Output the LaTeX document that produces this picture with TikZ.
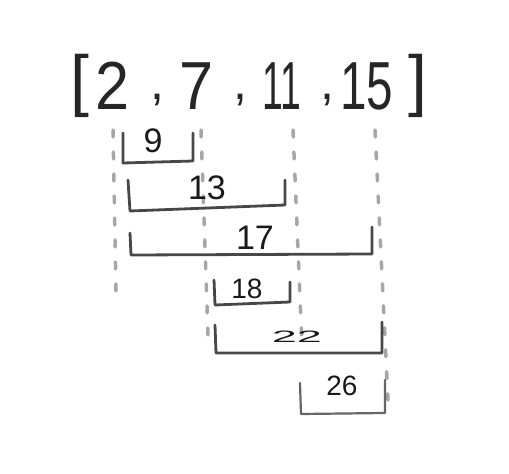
\documentclass[tikz,border=0pt]{standalone}
\usepackage{fontspec}
\setmainfont{Liberation Sans}
\begin{document}
\begin{tikzpicture}[x=1pt,y=-1pt,
  guide/.style={draw=black!35,line width=3.5pt,line cap=round,dash pattern=on 7pt off 15pt},
  brk/.style={draw=black!72,line width=2.8pt,line join=round,line cap=round},
  big/.style={text=black!85,inner sep=0pt,font=\fontsize{68}{68}\selectfont},
  lbl/.style={text=black!90,inner sep=0pt,font=\fontsize{34}{34}\selectfont}]
\useasboundingbox (0,0) rectangle (509,474);
% guides
\coordinate (ga1) at (113,130); \coordinate (ga2) at (116,292);
\coordinate (gb1) at (201,130); \coordinate (gb2) at (208,335);
\coordinate (gc1) at (293,130); \coordinate (gc2) at (302,345);
\coordinate (gd1) at (375,130); \coordinate (gd2) at (388,400);
\draw[guide] (ga1) -- (ga2);
\draw[guide] (gb1) -- (gb2);
\draw[guide] (gc1) -- (gc2);
\draw[guide] (gd1) -- (gd2);
% array
\node[big] (lb) at (80,86) {[};
\node[big,xscale=0.9] (n2) at (113,86) {2};
\node[big,font=\fontsize{50}{50}\selectfont] (c1) at (157,100) {,};
\node[big,xscale=0.9] (n7) at (197,86) {7};
\node[big,font=\fontsize{50}{50}\selectfont] (c2) at (240,100) {,};
\node[big,xscale=0.55] (n11) at (282,86) {11};
\node[big,font=\fontsize{50}{50}\selectfont] (c3) at (327,100) {,};
\node[big,xscale=0.7] (n15) at (367,86) {15};
\node[big] (rb) at (418,86) {]};
% brackets
\coordinate (a1) at (123,133); \coordinate (a2) at (123,163); \coordinate (a3) at (193,161); \coordinate (a4) at (193,133);
\draw[brk] (a1) -- (a2) -- (a3) -- (a4);
\node[lbl] (s9) at (153,141) {9};
\coordinate (b1) at (128,180); \coordinate (b2) at (130,211); \coordinate (b3) at (285,205); \coordinate (b4) at (285,180);
\draw[brk] (b1) -- (b2) -- (b3) -- (b4);
\node[lbl] (s13) at (207,188) {13};
\coordinate (c1b) at (130,233); \coordinate (c2b) at (131,255); \coordinate (c3b) at (372,254); \coordinate (c4b) at (372,227);
\draw[brk] (c1b) -- (c2b) -- (c3b) -- (c4b);
\node[lbl] (s17) at (255,238) {17};
\coordinate (d1) at (214,280); \coordinate (d2) at (215,305); \coordinate (d3) at (290,302); \coordinate (d4) at (290,282);
\draw[brk] (d1) -- (d2) -- (d3) -- (d4);
\node[lbl,font=\fontsize{28}{28}\selectfont] (s18) at (247,289) {18};
\coordinate (e1) at (215,325); \coordinate (e2) at (216,353); \coordinate (e3) at (382,353); \coordinate (e4) at (382,322);
\draw[brk] (e1) -- (e2) -- (e3) -- (e4);
\node[lbl,font=\fontsize{30}{30}\selectfont,xscale=1.5,yscale=0.55] (s22) at (297,337) {22};
\coordinate (f1) at (300,383); \coordinate (f2) at (301,414); \coordinate (f3) at (385,413); \coordinate (f4) at (385,380);
\draw[brk,draw=black!60,line width=2.2pt] (f1) -- (f2) -- (f3) -- (f4);
\node[lbl,font=\fontsize{28}{28}\selectfont] (s26) at (342,386) {26};
\end{tikzpicture}
\end{document}
